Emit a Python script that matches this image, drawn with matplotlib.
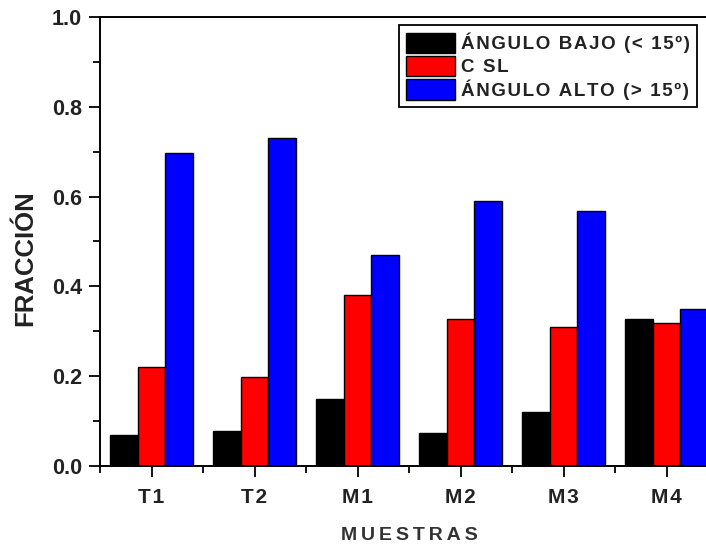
import numpy as np
import matplotlib.pyplot as plt
from matplotlib.ticker import MultipleLocator

plt.rcParams['font.family'] = ['Liberation Sans', 'DejaVu Sans']

muestras = ['T1', 'T2', 'M1', 'M2', 'M3', 'M4']
angulo_bajo = [0.07, 0.078, 0.15, 0.074, 0.12, 0.328]
csl = [0.22, 0.198, 0.38, 0.328, 0.31, 0.318]
angulo_alto = [0.698, 0.73, 0.47, 0.59, 0.568, 0.35]
series_labels = ['ÁNGULO BAJO (< 15º)', 'C SL', 'ÁNGULO ALTO (> 15º)']
series_colors = ['#000000', '#ff0000', '#0000ff']


def spaced(s, sep='\u200a'):
    # the original has wide letter spacing, fake it with hair spaces
    return sep.join(s)


fig = plt.figure(figsize=(7.06, 5.52), dpi=100)
# the right part of the frame is cut off in the original, so the axes run past the edge
ax = fig.add_axes([100 / 706, 86 / 552, 618 / 706, 449 / 552])

x = np.arange(1, len(muestras) + 1)
w = 0.27
for i, (vals, lab, col) in enumerate(zip([angulo_bajo, csl, angulo_alto], series_labels, series_colors)):
    ax.bar(x + (i - 1) * w, vals, width=w, color=col, edgecolor='black', linewidth=1.0, label=spaced(lab))

ax.set_xlim(0.5, 6.5)
ax.set_ylim(0, 1.0)
ax.set_xticks(x)
ax.set_xticklabels([spaced(m) for m in muestras])
ax.xaxis.set_minor_locator(MultipleLocator(1.0, offset=0.5))
ax.yaxis.set_major_locator(MultipleLocator(0.2))
ax.yaxis.set_minor_locator(MultipleLocator(0.1))
ax.yaxis.set_major_formatter(plt.FormatStrFormatter('%.1f'))

txt = '#222222'
ax.tick_params(which='major', direction='out', length=8, width=1.3, colors='black', labelcolor=txt)
ax.tick_params(which='minor', direction='out', length=5, width=1.3)
ax.tick_params(axis='y', labelsize=15.5, pad=5)
ax.tick_params(axis='x', labelsize=15, pad=8)
for t in ax.get_xticklabels() + ax.get_yticklabels():
    t.set_fontweight('bold')
for s in ax.spines.values():
    s.set_linewidth(1.4)

ax.set_ylabel('FRACCIÓN', fontsize=18.5, fontweight='bold', color=txt)
ax.yaxis.set_label_coords(-0.102, 0.463)
ax.set_xlabel('M\u2009U\u2009E\u2009S\u2009T\u2009R\u2009A\u2009S', fontsize=14, fontweight='bold',
              color='#333333', labelpad=14)

leg = ax.legend(loc='upper right', bbox_to_anchor=(0.966, 0.982), borderaxespad=0,
                fancybox=False, edgecolor='black', framealpha=1,
                handlelength=2.6, handleheight=1.3, labelspacing=0.15, handletextpad=0.3,
                borderpad=0.4, prop={'weight': 'bold', 'size': 13.5})
leg.get_frame().set_linewidth(1.3)
for t in leg.get_texts():
    t.set_color(txt)

fig.savefig('out.png', dpi=100)
